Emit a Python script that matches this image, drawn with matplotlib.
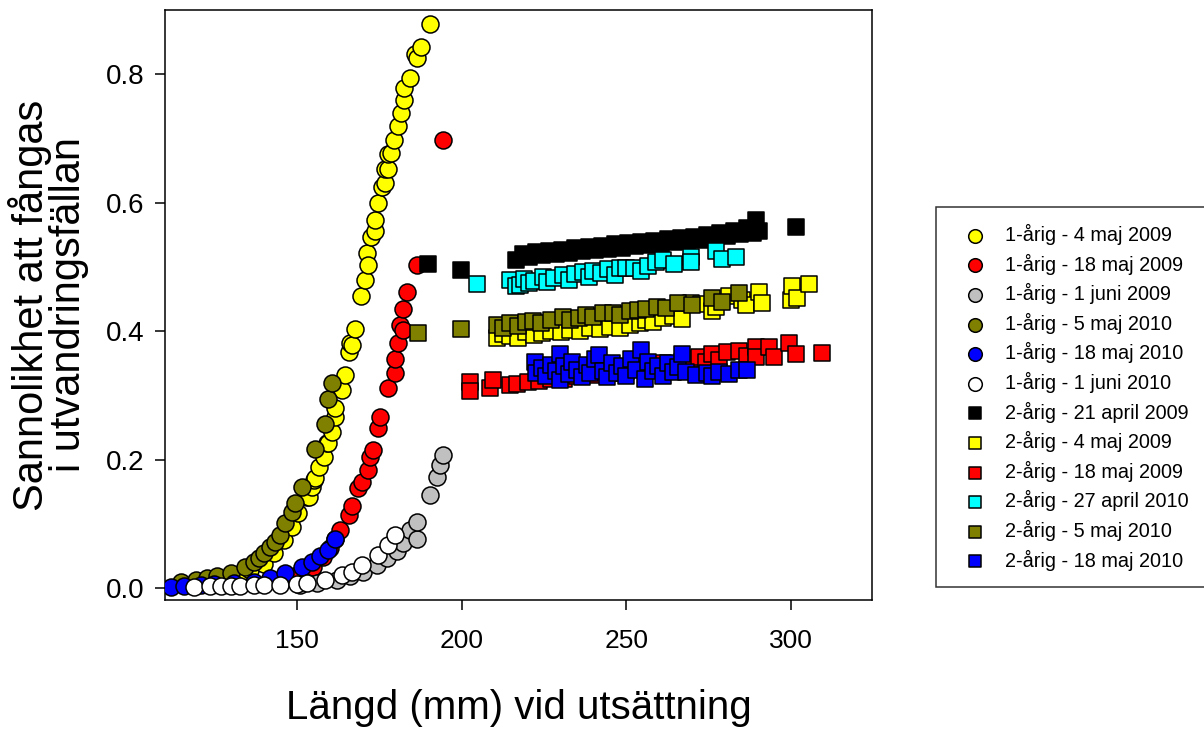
import matplotlib
matplotlib.use("Agg")
import matplotlib.pyplot as plt

plt.rcParams['font.family'] = ['Liberation Sans', 'DejaVu Sans']

# --- 1-årig (circles) ---
y1_0904_x = [128.0, 131.5, 133.5, 135.9, 140.0, 143.0, 146.0, 148.5, 150.5, 153.1, 153.6, 154.6, 155.1, 155.6,
             156.6, 158.1, 159.1, 159.6, 160.6, 161.7, 161.7, 163.7, 164.7, 165.7, 166.2, 166.7, 167.7, 169.5,
             170.7, 171.2, 171.7, 172.5, 173.7, 173.7, 174.7, 175.8, 176.6, 176.8, 177.6, 177.8, 178.6, 179.6,
             180.6, 181.5, 182.5, 182.5, 184.4, 185.8, 186.5, 187.6, 190.4]
y1_0904_y = [0.012, 0.018, 0.022, 0.028, 0.038, 0.054, 0.075, 0.095, 0.116, 0.142, 0.142, 0.157, 0.168, 0.171,
             0.188, 0.204, 0.225, 0.226, 0.243, 0.267, 0.280, 0.308, 0.331, 0.368, 0.381, 0.379, 0.403, 0.454,
             0.479, 0.521, 0.503, 0.546, 0.556, 0.573, 0.599, 0.625, 0.630, 0.652, 0.653, 0.675, 0.677, 0.698,
             0.719, 0.739, 0.760, 0.779, 0.794, 0.832, 0.826, 0.842, 0.878]

r1_0905_x = [150.0, 155.0, 158.0, 160.2, 161.6, 163.2, 165.7, 166.7, 168.7, 169.7, 171.7, 172.2, 173.2, 174.7,
             175.3, 177.8, 179.8, 179.8, 180.8, 181.3, 182.3, 182.3, 183.3, 186.4, 194.4]
r1_0905_y = [0.020, 0.033, 0.048, 0.062, 0.077, 0.090, 0.114, 0.127, 0.155, 0.165, 0.184, 0.204, 0.215, 0.249,
             0.267, 0.311, 0.334, 0.357, 0.381, 0.409, 0.402, 0.435, 0.461, 0.503, 0.697]

g1_0906_x = [151.1, 156.1, 162.2, 166.2, 170.2, 174.3, 177.3, 180.3, 182.3, 184.4, 186.4, 186.4, 190.4, 192.4,
             193.4, 194.4]
g1_0906_y = [0.005, 0.007, 0.012, 0.018, 0.025, 0.036, 0.046, 0.057, 0.070, 0.090, 0.077, 0.103, 0.145, 0.173,
             0.191, 0.207]

o1_1005_x = [114.8, 119.3, 122.8, 125.9, 129.9, 134.4, 136.9, 138.5, 140.0, 142.0, 143.5, 145.0, 146.5, 148.6,
             149.5, 151.6, 155.6, 158.6, 159.6, 160.6]
o1_1005_y = [0.010, 0.012, 0.015, 0.018, 0.023, 0.033, 0.041, 0.047, 0.054, 0.064, 0.072, 0.082, 0.101, 0.119,
             0.132, 0.157, 0.217, 0.255, 0.295, 0.319]

b1_1005_x = [111.7, 115.8, 120.8, 125.0, 130.9, 136.9, 142.0, 146.5, 151.6, 154.6, 157.0, 159.6, 161.6]
b1_1005_y = [0.002, 0.003, 0.005, 0.006, 0.007, 0.010, 0.015, 0.023, 0.033, 0.041, 0.050, 0.059, 0.077]

w1_1006_x = [118.8, 123.8, 126.9, 129.9, 132.9, 136.9, 140.0, 145.0, 150.1, 153.1, 158.6, 163.7, 166.7, 169.7,
             174.7, 177.8, 179.8]
w1_1006_y = [0.002, 0.003, 0.003, 0.003, 0.003, 0.004, 0.004, 0.005, 0.006, 0.007, 0.012, 0.020, 0.025, 0.036,
             0.051, 0.067, 0.082]

# --- 2-årig (squares) ---
k2_0904_x = [189.9, 199.7, 216.6, 218.5, 220.5, 222.5, 224.5, 226.5, 228.5, 230.5, 232.5, 234.5, 236.5, 238.5,
             240.5, 242.5, 244.5, 246.5, 248.5, 250.5, 252.5, 254.5, 256.5, 258.5, 260.5, 262.5, 264.5, 266.5,
             268.5, 270.5, 272.5, 274.5, 276.5, 278.5, 280.5, 282.5, 284.5, 286.5, 288.5, 289.2, 290.2, 301.3]
k2_0904_y = [0.505, 0.495, 0.510, 0.520, 0.515, 0.523, 0.518, 0.525, 0.520, 0.527, 0.522, 0.529, 0.524, 0.531,
             0.526, 0.533, 0.528, 0.535, 0.530, 0.537, 0.532, 0.539, 0.534, 0.541, 0.536, 0.543, 0.538, 0.545,
             0.540, 0.547, 0.542, 0.550, 0.545, 0.553, 0.548, 0.556, 0.551, 0.560, 0.553, 0.573, 0.556, 0.562]

y2_0905_x = [210.6, 212.5, 214.6, 217.0, 219.5, 222.0, 224.5, 227.0, 230.0, 233.0, 236.0, 239.0, 242.0, 245.0,
             248.0, 251.0, 254.0, 255.9, 258.0, 261.0, 264.0, 267.0, 269.5, 272.5, 276.0, 277.1, 281.0, 285.0,
             286.2, 290.2, 291.2, 299.8, 300.3, 301.8, 305.3]
y2_0905_y = [0.389, 0.395, 0.392, 0.390, 0.398, 0.394, 0.397, 0.400, 0.398, 0.402, 0.400, 0.405, 0.403, 0.407,
             0.405, 0.410, 0.412, 0.417, 0.414, 0.420, 0.423, 0.419, 0.444, 0.442, 0.432, 0.438, 0.455, 0.448,
             0.440, 0.461, 0.444, 0.448, 0.470, 0.451, 0.474]

r2_0905_x = [202.5, 202.5, 208.5, 209.5, 214.6, 216.7, 220.0, 223.5, 227.0, 231.0, 235.0, 240.0, 245.0, 250.0,
             255.0, 258.0, 261.0, 264.0, 267.0, 270.0, 272.0, 274.0, 276.0, 278.0, 280.5, 284.2, 286.5, 289.2,
             289.2, 293.2, 294.7, 299.3, 301.3, 309.3]
r2_0905_y = [0.321, 0.306, 0.311, 0.324, 0.316, 0.318, 0.320, 0.322, 0.325, 0.326, 0.330, 0.332, 0.335, 0.338,
             0.341, 0.343, 0.350, 0.345, 0.352, 0.357, 0.360, 0.352, 0.365, 0.355, 0.367, 0.369, 0.362, 0.376,
             0.360, 0.376, 0.360, 0.381, 0.365, 0.366]

c2_1004_x = [204.7, 214.6, 216.5, 217.6, 219.0, 220.5, 222.0, 224.6, 226.0, 228.0, 230.6, 232.5, 234.5, 236.7,
             238.5, 240.0, 242.3, 244.5, 246.5, 248.0, 249.9, 252.4, 254.5, 256.5, 258.9, 261.0, 264.5, 269.5,
             269.5, 277.1, 279.1, 283.2]
c2_1004_y = [0.473, 0.479, 0.470, 0.472, 0.481, 0.475, 0.478, 0.485, 0.476, 0.483, 0.487, 0.480, 0.489, 0.492,
             0.485, 0.494, 0.490, 0.496, 0.488, 0.499, 0.498, 0.498, 0.493, 0.502, 0.508, 0.511, 0.505, 0.516,
             0.508, 0.524, 0.513, 0.515]

o2_1005_x = [186.8, 199.7, 210.6, 212.5, 214.6, 217.0, 219.5, 221.6, 224.0, 227.0, 230.7, 233.0, 235.5, 237.8,
             240.0, 243.0, 245.8, 248.0, 251.0, 253.5, 255.9, 259.4, 262.0, 265.5, 270.0, 276.1, 279.1, 284.2]
o2_1005_y = [0.397, 0.403, 0.409, 0.405, 0.412, 0.408, 0.414, 0.415, 0.412, 0.418, 0.422, 0.418, 0.421, 0.425,
             0.422, 0.428, 0.428, 0.425, 0.431, 0.433, 0.435, 0.438, 0.436, 0.443, 0.440, 0.452, 0.445, 0.459]

b2_1005_x = [222.2, 222.7, 224.5, 225.5, 227.0, 228.5, 229.7, 229.7, 231.0, 232.5, 233.5, 235.0, 236.5, 238.0,
             239.0, 240.5, 241.8, 243.0, 244.0, 245.5, 247.0, 248.5, 250.0, 251.5, 253.0, 254.4, 255.5, 256.5,
             258.0, 259.5, 261.0, 262.5, 264.0, 265.5, 267.0, 268.0, 271.0, 274.5, 276.0, 278.1, 281.0, 284.2,
             286.7]
b2_1005_y = [0.352, 0.334, 0.343, 0.330, 0.348, 0.338, 0.365, 0.324, 0.345, 0.333, 0.352, 0.340, 0.328, 0.347,
             0.335, 0.356, 0.363, 0.338, 0.328, 0.350, 0.334, 0.345, 0.330, 0.357, 0.340, 0.370, 0.326, 0.352,
             0.338, 0.345, 0.330, 0.350, 0.336, 0.344, 0.365, 0.337, 0.332, 0.334, 0.330, 0.337, 0.333, 0.339,
             0.339]

series = [
    ("1-årig - 4 maj 2009", y1_0904_x, y1_0904_y, "o", "#ffff00"),
    ("1-årig - 18 maj 2009", r1_0905_x, r1_0905_y, "o", "#ff0000"),
    ("1-årig - 1 juni 2009", g1_0906_x, g1_0906_y, "o", "#c0c0c0"),
    ("1-årig - 5 maj 2010", o1_1005_x, o1_1005_y, "o", "#808000"),
    ("1-årig - 18 maj 2010", b1_1005_x, b1_1005_y, "o", "#0000ff"),
    ("1-årig - 1 juni 2010", w1_1006_x, w1_1006_y, "o", "#ffffff"),
    ("2-årig - 21 april 2009", k2_0904_x, k2_0904_y, "s", "#000000"),
    ("2-årig - 4 maj 2009", y2_0905_x, y2_0905_y, "s", "#ffff00"),
    ("2-årig - 18 maj 2009", r2_0905_x, r2_0905_y, "s", "#ff0000"),
    ("2-årig - 27 april 2010", c2_1004_x, c2_1004_y, "s", "#00ffff"),
    ("2-årig - 5 maj 2010", o2_1005_x, o2_1005_y, "s", "#808000"),
    ("2-årig - 18 maj 2010", b2_1005_x, b2_1005_y, "s", "#0000ff"),
]

fig = plt.figure(figsize=(12.04, 7.33), dpi=100)
ax = fig.add_axes([165/1204, 1-600/733, 707/1204, 590/733])

for name, xs, ys, mk, col in series:
    assert len(xs) == len(ys), name
    size = 150 if mk == "o" else 125
    ax.scatter(xs, ys, s=size, marker=mk, facecolor=col, edgecolor="black",
               linewidths=1.1, label=name, zorder=3)

ax.set_xlim(110, 324.5)
ax.set_ylim(-0.0187, 0.9)
ax.set_xticks([150, 200, 250, 300])
ax.set_yticks([0.0, 0.2, 0.4, 0.6, 0.8])
ax.set_yticklabels(["0.0", "0.2", "0.4", "0.6", "0.8"])
for sp in ax.spines.values():
    sp.set_linewidth(1.1)
ax.tick_params(axis="both", direction="out", length=7, width=1.1)
ax.tick_params(axis="x", labelsize=19, pad=14)
ax.tick_params(axis="y", labelsize=20, pad=8)

ax.set_xlabel("Längd (mm) vid utsättning", fontsize=29, labelpad=26)
ax.set_ylabel("Sannolikhet att fångas\ni utvandringsfällan", fontsize=30, labelpad=12,
              linespacing=0.9)

leg = fig.legend(loc="upper left", bbox_to_anchor=(936/1204, 1-207/733), borderaxespad=0,
                 fontsize=14.3, frameon=True, fancybox=False, edgecolor="black", scatterpoints=1,
                 markerscale=0.8, handletextpad=0.4, labelspacing=0.43, borderpad=0.85,
                 handlelength=2.2)
leg.get_frame().set_linewidth(1.1)

fig.savefig("out.png", dpi=100)
